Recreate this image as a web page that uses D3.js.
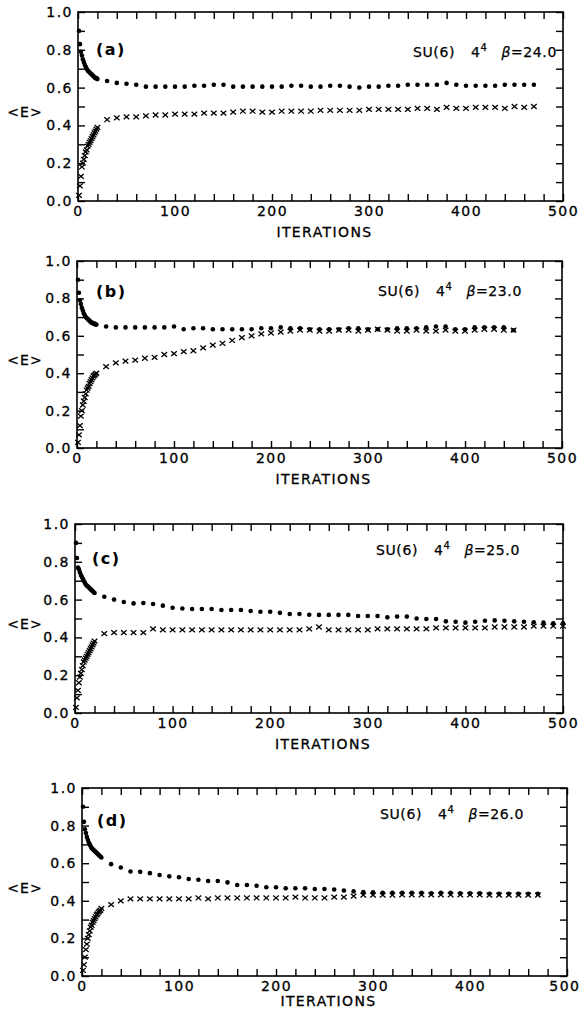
<!DOCTYPE html>
<html><head><meta charset="utf-8">
<script src="https://cdn.jsdelivr.net/npm/d3@7"></script>
<style>body{margin:0;background:#fff}svg{display:block}</style>
</head><body>
<svg id="c" width="581" height="1017"></svg>
<script>
// ---------- data ----------
const iterDense = [1,2,3,4,5,6,7,8,9,10,11,12,13,14,15,16,17,18,19,20];
const iterSparse = [30,40,50,60,70,80,90,100,110,120,130,140,150,160,170,180,190,200,210,220,230,240,250,260,270,280,290,300,310,320,330,340,350,360,370,380,390,400,410,420,430,440,450,460,470,480,490,500];
const xTickLabels = [0,100,200,300,400,500];
const yTickLabels = [0.0,0.2,0.4,0.6,0.8,1.0];
const panelLetters = ["(a)","(b)","(c)","(d)"];
const betaValues = ["24.0","23.0","25.0","26.0"];

// panel (a) beta=24.0
const dotsDenseA  = [0.90,0.83,0.79,0.77,0.75,0.735,0.72,0.71,0.70,0.69,0.685,0.68,0.675,0.67,0.665,0.66,0.655,0.65,0.65,0.645];
const crossDenseA = [0.03,0.08,0.13,0.18,0.20,0.22,0.24,0.26,0.27,0.29,0.30,0.31,0.32,0.33,0.34,0.35,0.36,0.37,0.38,0.39];
const dotsA  = [0.635,0.625,0.62,0.615,0.605,0.605,0.605,0.605,0.605,0.61,0.61,0.615,0.615,0.605,0.605,0.605,0.605,0.605,0.605,0.61,0.61,0.605,0.605,0.61,0.61,0.605,0.60,0.605,0.605,0.61,0.61,0.615,0.615,0.615,0.615,0.625,0.615,0.61,0.61,0.61,0.61,0.615,0.615,0.615,0.615];
const crossA = [0.43,0.44,0.445,0.445,0.45,0.455,0.455,0.46,0.46,0.46,0.465,0.465,0.465,0.47,0.475,0.475,0.47,0.47,0.475,0.475,0.475,0.475,0.48,0.48,0.48,0.48,0.48,0.485,0.485,0.485,0.485,0.485,0.49,0.49,0.485,0.495,0.49,0.49,0.495,0.495,0.495,0.49,0.50,0.495,0.50];

// panel (b) beta=23.0
const dotsDenseB  = [0.90,0.83,0.79,0.77,0.75,0.735,0.72,0.71,0.70,0.695,0.69,0.685,0.68,0.675,0.67,0.67,0.665,0.665,0.66,0.66];
const crossDenseB = [0.03,0.07,0.12,0.17,0.20,0.23,0.25,0.27,0.29,0.31,0.32,0.33,0.345,0.355,0.365,0.375,0.385,0.39,0.395,0.40];
const dotsB  = [0.65,0.645,0.645,0.645,0.645,0.645,0.645,0.65,0.635,0.64,0.64,0.635,0.635,0.635,0.635,0.635,0.64,0.64,0.645,0.64,0.64,0.635,0.635,0.635,0.635,0.64,0.64,0.635,0.635,0.635,0.64,0.64,0.64,0.645,0.65,0.65,0.635,0.635,0.645,0.645,0.645,0.645,0.63];
const crossB = [0.435,0.455,0.465,0.47,0.48,0.485,0.50,0.505,0.515,0.52,0.535,0.55,0.56,0.575,0.59,0.60,0.61,0.615,0.62,0.625,0.63,0.63,0.625,0.625,0.63,0.63,0.625,0.63,0.635,0.63,0.625,0.625,0.63,0.625,0.625,0.63,0.625,0.625,0.63,0.635,0.635,0.63,0.63];

// panel (c) beta=25.0
const dotsDenseC  = [0.90,0.82,0.77,0.76,0.745,0.73,0.72,0.71,0.70,0.69,0.68,0.675,0.67,0.665,0.66,0.655,0.65,0.645,0.64,0.635];
const crossDenseC = [0.03,0.08,0.12,0.16,0.19,0.21,0.23,0.25,0.27,0.28,0.29,0.30,0.31,0.32,0.33,0.34,0.35,0.36,0.37,0.38];
const dotsC  = [0.615,0.60,0.587,0.58,0.582,0.577,0.568,0.557,0.553,0.55,0.55,0.55,0.545,0.545,0.545,0.54,0.536,0.536,0.53,0.524,0.524,0.52,0.519,0.519,0.519,0.519,0.513,0.513,0.513,0.506,0.51,0.51,0.50,0.497,0.497,0.485,0.483,0.478,0.483,0.488,0.49,0.488,0.485,0.483,0.48,0.478,0.475,0.475];
const crossC = [0.42,0.425,0.425,0.425,0.425,0.445,0.44,0.44,0.44,0.44,0.44,0.44,0.44,0.44,0.44,0.44,0.44,0.44,0.44,0.44,0.44,0.445,0.455,0.44,0.44,0.44,0.44,0.44,0.445,0.445,0.445,0.445,0.445,0.445,0.45,0.45,0.45,0.45,0.45,0.45,0.455,0.455,0.455,0.455,0.46,0.46,0.46,0.46];

// panel (d) beta=26.0
const dotsDenseD  = [0.90,0.82,0.78,0.76,0.74,0.725,0.71,0.70,0.69,0.68,0.675,0.67,0.665,0.66,0.655,0.65,0.645,0.64,0.635,0.63];
const crossDenseD = [0.03,0.06,0.10,0.14,0.17,0.20,0.22,0.24,0.26,0.27,0.285,0.295,0.305,0.315,0.325,0.33,0.34,0.345,0.35,0.36];
const dotsD  = [0.595,0.577,0.556,0.554,0.547,0.537,0.53,0.525,0.516,0.512,0.505,0.505,0.498,0.484,0.484,0.48,0.472,0.472,0.467,0.467,0.467,0.463,0.463,0.46,0.455,0.45,0.447,0.445,0.443,0.443,0.443,0.443,0.443,0.44,0.443,0.443,0.44,0.44,0.44,0.437,0.437,0.437,0.437,0.437,0.437];
const crossD = [0.38,0.40,0.41,0.41,0.41,0.41,0.41,0.41,0.41,0.415,0.41,0.415,0.415,0.415,0.415,0.415,0.415,0.415,0.415,0.42,0.415,0.415,0.415,0.42,0.42,0.425,0.43,0.43,0.43,0.43,0.432,0.432,0.432,0.432,0.432,0.432,0.432,0.432,0.432,0.43,0.43,0.43,0.43,0.43,0.43];

// ---------- layout (pixels) ----------
const panels = [
  {x0:78, x1:563, y0:12,  y1:201, lx:96, ly:0.80, tx:413, ty:0.79, it:36, dd:dotsDenseA, cd:crossDenseA, ds:dotsA, cs:crossA},
  {x0:77, x1:562, y0:261, y1:448, lx:96, ly:0.84, tx:378, ty:0.84, it:36, dd:dotsDenseB, cd:crossDenseB, ds:dotsB, cs:crossB},
  {x0:75, x1:563, y0:524, y1:713, lx:92, ly:0.82, tx:376, ty:0.86, it:36, dd:dotsDenseC, cd:crossDenseC, ds:dotsC, cs:crossC},
  {x0:82, x1:567, y0:788, y1:976, lx:97, ly:0.83, tx:380, ty:0.86, it:30, dd:dotsDenseD, cd:crossDenseD, ds:dotsD, cs:crossD}
];

const svg = d3.select("#c");
const FONT = "DejaVu Sans";
const W = 581;
const crossPath = "M-2.8,-2.4L2.8,2.4M-2.8,2.4L2.8,-2.4";

panels.forEach((p, i) => {
  const x = d3.scaleLinear().domain([0, 500]).range([p.x0, p.x1]);
  const y = d3.scaleLinear().domain([0, 1]).range([p.y1, p.y0]);
  const g = svg.append("g");

  const xt = x.ticks(25);           // every 20
  const yt = y.ticks(10);           // every 0.1
  const tickLen = 7;

  const style = sel => {
    sel.select(".domain").remove();
    sel.selectAll("line").attr("stroke", "#000").attr("stroke-width", 1.4);
    sel.selectAll("text").attr("font-family", FONT).attr("font-size", 14)
       .attr("letter-spacing", 1.5).attr("fill", "#000")
       .attr("stroke", "#000").attr("stroke-width", 0.3);
  };

  const bottom = g.append("g").attr("transform", `translate(0,${p.y1})`)
    .call(d3.axisBottom(x).tickValues(xt).tickSizeInner(-tickLen).tickSizeOuter(0).tickPadding(5)
      .tickFormat(d => xTickLabels.includes(d) ? String(d) : ""))
    .call(style);
  // keep the last label inside the page only when it would overflow
  bottom.selectAll(".tick").filter(d => d === 500).select("text").each(function() {
    const bb = this.getBBox();
    const right = p.x1 + bb.x + bb.width;
    if (right > W - 1) d3.select(this).attr("x", -(right - (W - 1)));
  });

  g.append("g").attr("transform", `translate(0,${p.y0})`)
    .call(d3.axisTop(x).tickValues(xt).tickSizeInner(-tickLen).tickSizeOuter(0).tickFormat(""))
    .call(style);
  g.append("g").attr("transform", `translate(${p.x0},0)`)
    .call(d3.axisLeft(y).tickValues(yt).tickSizeInner(-tickLen).tickSizeOuter(0).tickPadding(5)
      .tickFormat(d => yTickLabels.some(v => Math.abs(v - d) < 1e-9) ? d3.format(".1f")(d) : ""))
    .call(style);
  g.append("g").attr("transform", `translate(${p.x1},0)`)
    .call(d3.axisRight(y).tickValues(yt).tickSizeInner(-tickLen).tickSizeOuter(0).tickFormat(""))
    .call(style);

  g.append("rect").attr("x", p.x0).attr("y", p.y0)
    .attr("width", p.x1 - p.x0).attr("height", p.y1 - p.y0)
    .attr("fill", "none").attr("stroke", "#000").attr("stroke-width", 1.6);

  // axis titles
  g.append("text").attr("x", (p.x0 + p.x1) / 2 + 4).attr("y", p.y1 + p.it)
    .attr("text-anchor", "middle").attr("font-family", FONT).attr("font-size", 14)
    .attr("letter-spacing", 1.4).attr("stroke", "#000").attr("stroke-width", 0.3).text("ITERATIONS");
  g.append("text").attr("x", 25).attr("y", y(0.47)).attr("dy", "0.35em")
    .attr("text-anchor", "middle").attr("font-family", FONT).attr("font-size", 14)
    .attr("letter-spacing", 1).attr("stroke", "#000").attr("stroke-width", 0.3).text("<E>");

  // panel letter
  g.append("text").attr("x", p.lx).attr("y", y(p.ly)).attr("dy", "0.35em")
    .attr("font-family", FONT).attr("font-size", 16).attr("font-weight", "bold")
    .attr("letter-spacing", 1.5).text(panelLetters[i]);

  // run label
  const t = g.append("text").attr("x", p.tx).attr("y", y(p.ty)).attr("dy", "0.35em")
    .attr("font-family", FONT).attr("font-size", 14).attr("letter-spacing", 0.6)
    .attr("stroke", "#000").attr("stroke-width", 0.25);
  t.append("tspan").text("SU(6)");
  t.append("tspan").attr("dx", 16).text("4");
  t.append("tspan").attr("dy", -6).attr("font-size", 10).text("4");
  t.append("tspan").attr("dy", 6).attr("dx", 14).attr("font-style", "italic").text("β");
  t.append("tspan").text("=" + betaValues[i]);

  // markers
  const dots = p.dd.map((v, k) => [iterDense[k], v]).concat(p.ds.map((v, k) => [iterSparse[k], v]));
  const crosses = p.cd.map((v, k) => [iterDense[k], v]).concat(p.cs.map((v, k) => [iterSparse[k], v]));

  g.append("g").selectAll("circle").data(dots).join("circle")
    .attr("cx", d => x(d[0])).attr("cy", d => y(d[1])).attr("r", 2.3).attr("fill", "#000");
  g.append("g").selectAll("path").data(crosses).join("path")
    .attr("d", crossPath).attr("transform", d => `translate(${x(d[0])},${y(d[1])})`)
    .attr("fill", "none").attr("stroke", "#000").attr("stroke-width", 1.3);
});
</script>
</body></html>
